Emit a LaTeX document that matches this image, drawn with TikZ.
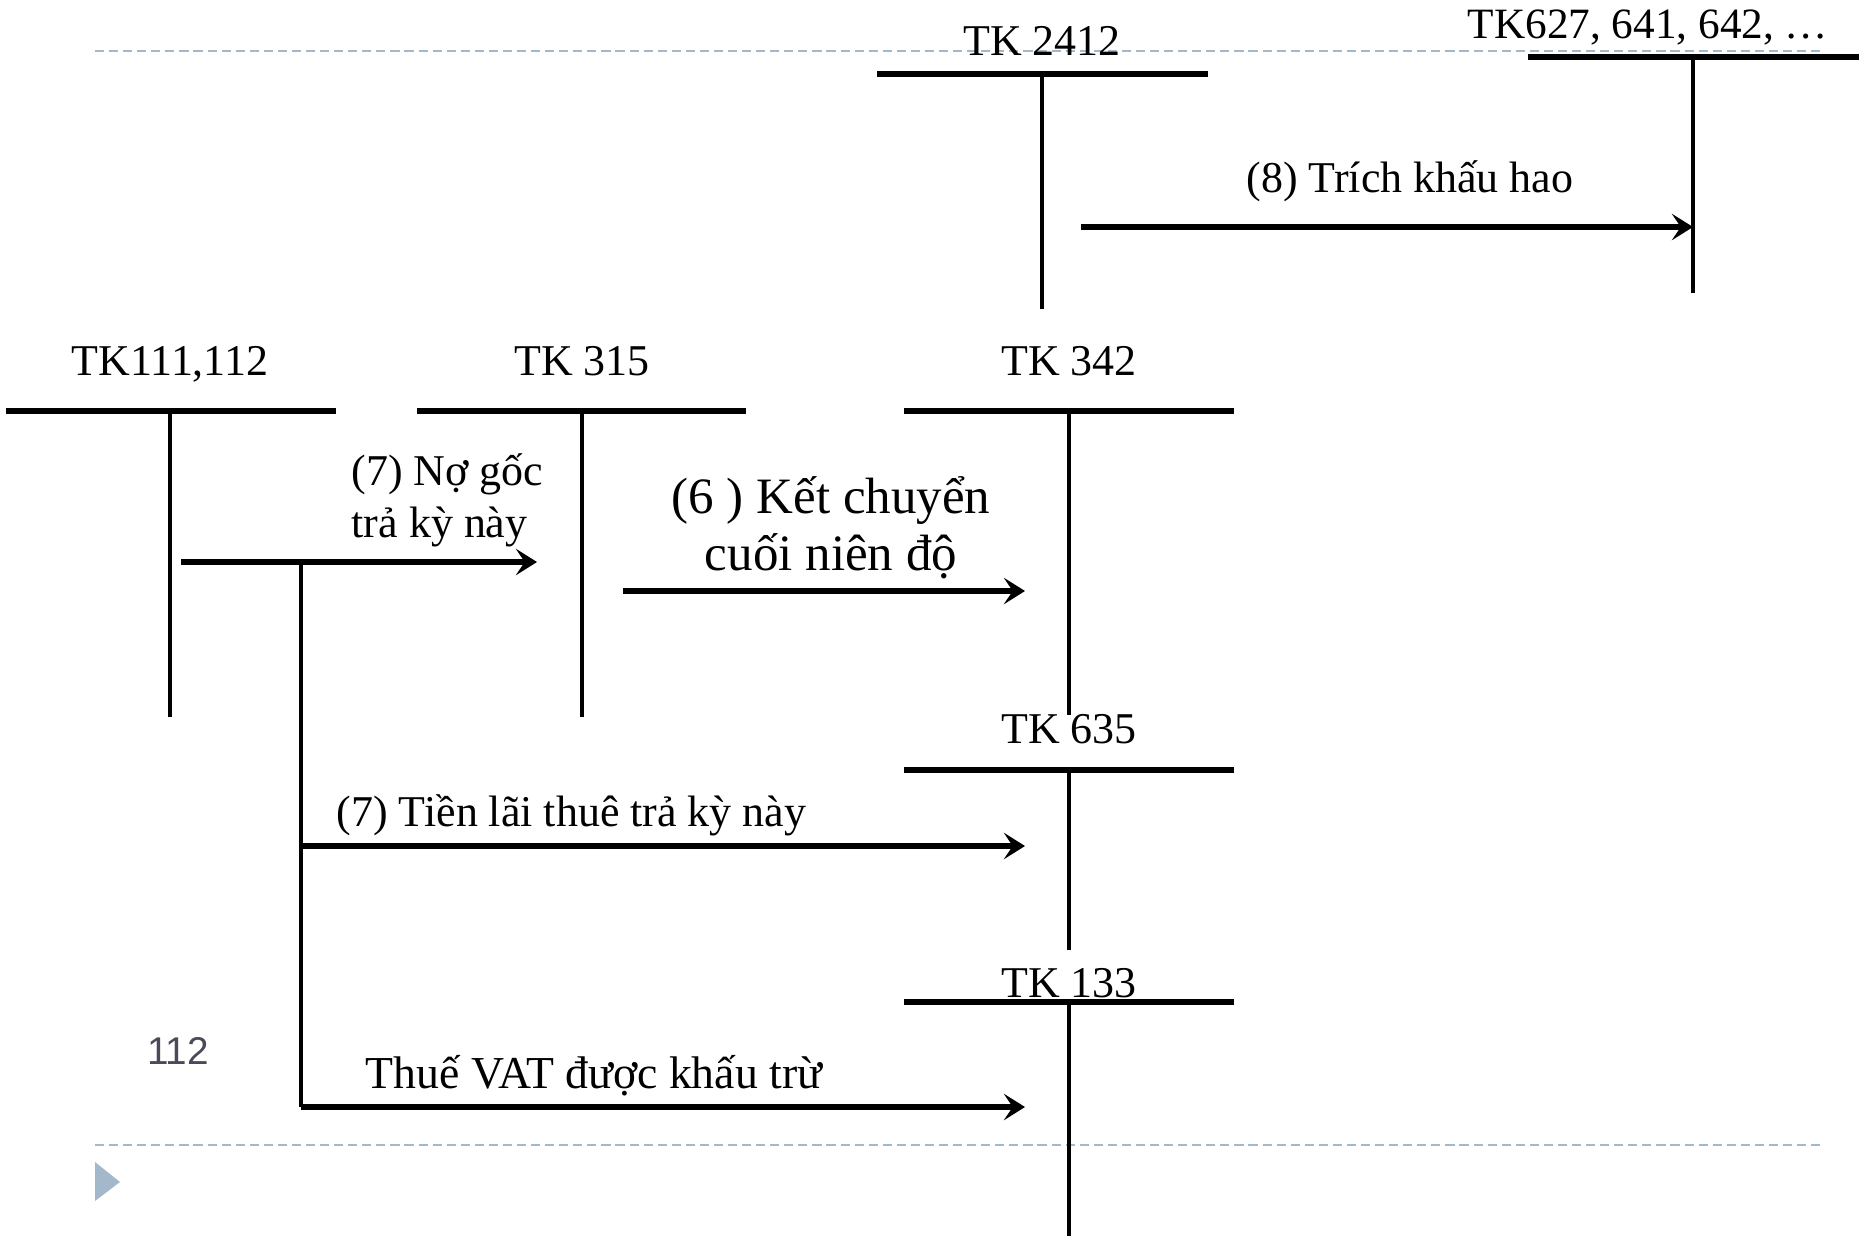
\documentclass[tikz,border=0pt]{standalone}
\usepackage{fontspec}
\setmainfont{Liberation Serif}
\newfontfamily\pagefont{Liberation Sans}
\usetikzlibrary{arrows.meta, positioning}
\definecolor{slideline}{RGB}{164,184,204}
\definecolor{pagegray}{RGB}{74,74,90}

\begin{document}
\begin{tikzpicture}[x=0.01cm, y=-0.01cm,
    >={Stealth[length=6pt, width=7.5pt, inset=2.5pt]},
    bar/.style={line width=1.7pt},
    stem/.style={line width=1.3pt},
    flow/.style={->, line width=1.6pt},
    acct/.style={font=\fontsize{12.5}{14}\selectfont, anchor=base, inner sep=0pt},
    note/.style={font=\fontsize{12.5}{14}\selectfont, anchor=base west, inner sep=0pt},
    bignote/.style={font=\fontsize{14.5}{16}\selectfont, anchor=base, inner sep=0pt},
    rule/.style={slideline, line width=0.8pt, dash pattern=on 2.6pt off 1.4pt}]
\useasboundingbox (0,0) rectangle (1866,1236);

% slide frame
\draw[rule] (95,51) -- (1823,51);
\draw[rule] (95,1145) -- (1823,1145);
\fill[slideline] (95,1162) -- (120,1182) -- (95,1201) -- cycle;
\node[font=\pagefont\fontsize{11}{13}\selectfont, text=pagegray, anchor=base, inner sep=0pt] (pageno) at (178,1064) {112};

% T accounts
\coordinate (tk2412) at (1042,74);
\draw[bar] (877,74) -- (1208,74);
\draw[stem] (tk2412) -- ++(0,235);
\node[acct] (l2412) at (1042,55) {TK 2412};

\coordinate (tk627) at (1693,57);
\draw[bar] (1528,57) -- (1859,57);
\draw[stem] (tk627) -- ++(0,236);
\node[acct, font=\fontsize{12.3}{14}\selectfont] (l627) at (1648,38) {TK627, 641, 642, …};

\coordinate (tk111) at (170,411);
\draw[bar] (6,411) -- (336,411);
\draw[stem] (tk111) -- ++(0,306);
\node[acct] (l111) at (170,375) {TK111,112};

\coordinate (tk315) at (582,411);
\draw[bar] (417,411) -- (746,411);
\draw[stem] (tk315) -- ++(0,306);
\node[acct] (l315) at (582,375) {TK 315};

\coordinate (tk342) at (1069,411);
\draw[bar] (904,411) -- (1234,411);
\draw[stem] (tk342) -- ++(0,304);
\node[acct] (l342) at (1069,375) {TK 342};

\coordinate (tk635) at (1069,770);
\draw[bar] (904,770) -- (1234,770);
\draw[stem] (tk635) -- ++(0,180);
\node[acct] (l635) at (1069,743) {TK 635};

\coordinate (tk133) at (1069,1002);
\draw[bar] (904,1002) -- (1234,1002);
\draw[stem] (tk133) -- ++(0,234);
\node[acct] (l133) at (1069,997) {TK 133};

% entries
\coordinate (s8) at (1081,227);
\draw[flow] (s8) -- (s8 -| tk627);
\node[acct] (n8) at (1410,192) {(8) Trích khấu hao};

\coordinate (s7) at (181,562);
\coordinate (e7) at (537,562);
\draw[flow] (s7) -- (e7);
\node[note] (n7a) at (351,485) {(7) Nợ gốc};
\node[note] (n7b) at (351,537) {trả kỳ này};

\coordinate (s6) at (623,591);
\coordinate (e6) at (1025,591);
\draw[flow] (s6) -- (e6);
\node[bignote] (n6a) at (831,513) {(6 ) Kết chuyển};
\node[bignote] (n6b) at (831,570) {cuối niên độ};

\coordinate (fork) at (301,562);
\coordinate (sl) at (301,846);
\coordinate (sv) at (301,1107);
\draw[line width=1.4pt] (fork) -- (sv);
\draw[flow] (sl) -- (1025,846);
\draw[flow] (sv) -- (1025,1107);
\node[note] (nl) at (336,826) {(7) Tiền lãi thuê trả kỳ này};
\node[note, font=\fontsize{13}{14}\selectfont] (nv) at (365,1088) {Thuế VAT được khấu trừ};
\end{tikzpicture}
\end{document}
